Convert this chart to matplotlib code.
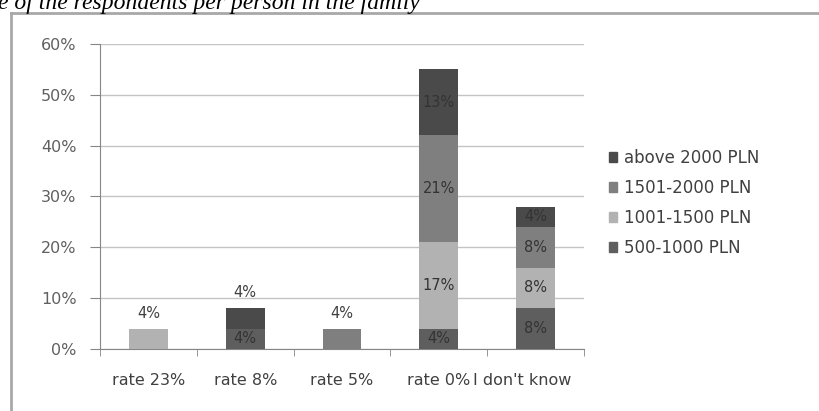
import numpy as np
import matplotlib
matplotlib.use('Agg')
from matplotlib import pyplot as plt
from matplotlib.lines import Line2D
from matplotlib.patches import Patch

plt.rcParams['font.family'] = ['DejaVu Sans']

categories = ['rate 23%', 'rate 8%', 'rate 5%', 'rate 0%', "I don't know"]
series = ['500-1000 PLN', '1001-1500 PLN', '1501-2000 PLN', 'above 2000 PLN']
v500 = [0, 4, 0, 4, 8]
v1001 = [4, 0, 0, 17, 8]
v1501 = [0, 0, 4, 21, 8]
v2000 = [0, 4, 0, 13, 4]
colors = ['#5e5e5e', '#b2b2b2', '#7f7f7f', '#4a4a4a']
yticks = [0, 10, 20, 30, 40, 50, 60]

fig = plt.figure(figsize=(8.2, 4.11), dpi=100)
ax = fig.add_axes([100/820, 1-349/411, 484/820, 305/411])

x = np.arange(len(categories))
values = [v500, v1001, v1501, v2000]
totals = np.sum(values, axis=0)
bottom = np.zeros(len(categories))
for name, vals, col in zip(series, values, colors):
    vals = np.array(vals, dtype=float)
    ax.bar(x, vals, 0.4, bottom=bottom, color=col, label=name, zorder=3)
    for i, v in enumerate(vals):
        if v == 0:
            continue
        top = bottom[i] + v
        if totals[i] < 10 and top == totals[i]:
            # short bars get their top label just above
            ax.text(x[i], top + 1.6, '%d%%' % v, ha='center', va='bottom',
                    fontsize=10.5, color='#404040', zorder=4)
        else:
            ax.text(x[i], bottom[i] + v/2, '%d%%' % v, ha='center', va='center',
                    fontsize=10.5, color='#333333', zorder=4)
    bottom += vals

ax.set_xlim(-0.5, 4.5)
ax.set_ylim(0, 60)
ax.set_yticks(yticks)
ax.set_yticklabels(['%d%%' % t for t in yticks], color='#606060', fontsize=11.5)
# category labels; the last one is nudged left next to "rate 0%"
ax.set_xticks(x - np.array([0, 0, 0, 0, 0.14]))
ax.set_xticklabels(categories, color='#404040', fontsize=11.5)
ax.set_xticks(np.arange(-0.5, 5, 1), minor=True)
ax.tick_params(axis='x', which='major', length=0, pad=17)
ax.tick_params(axis='x', which='minor', length=5, color='#868686', direction='out')
ax.tick_params(axis='y', length=7, color='#868686', pad=10)
ax.grid(axis='y', color='#c4c4c4', lw=1, zorder=0)
for s in ['top', 'right']:
    ax.spines[s].set_visible(False)
for s in ['left', 'bottom']:
    ax.spines[s].set_color('#868686')

handles = [Patch(color=c) for c in colors][::-1]
fig.legend(handles, series[::-1], loc='center left', bbox_to_anchor=(594/820, 1-203/411),
           frameon=False, fontsize=12, handlelength=0.5, handleheight=0.5,
           handletextpad=0.4, labelspacing=0.72, labelcolor='#404040')

# surrounding frame
fig.add_artist(Line2D([11.5/820, 11.5/820], [0, 1-13/411], color='#a8a8a8', lw=2))
fig.add_artist(Line2D([11.5/820, 1], [1-13/411, 1-13/411], color='#a8a8a8', lw=2))

fig.text(-0.003, 1-9/411, 'e of the respondents per person in the family',
         family='Liberation Serif', style='italic', fontsize=17, va='baseline')

fig.savefig('out.png', dpi=100)
